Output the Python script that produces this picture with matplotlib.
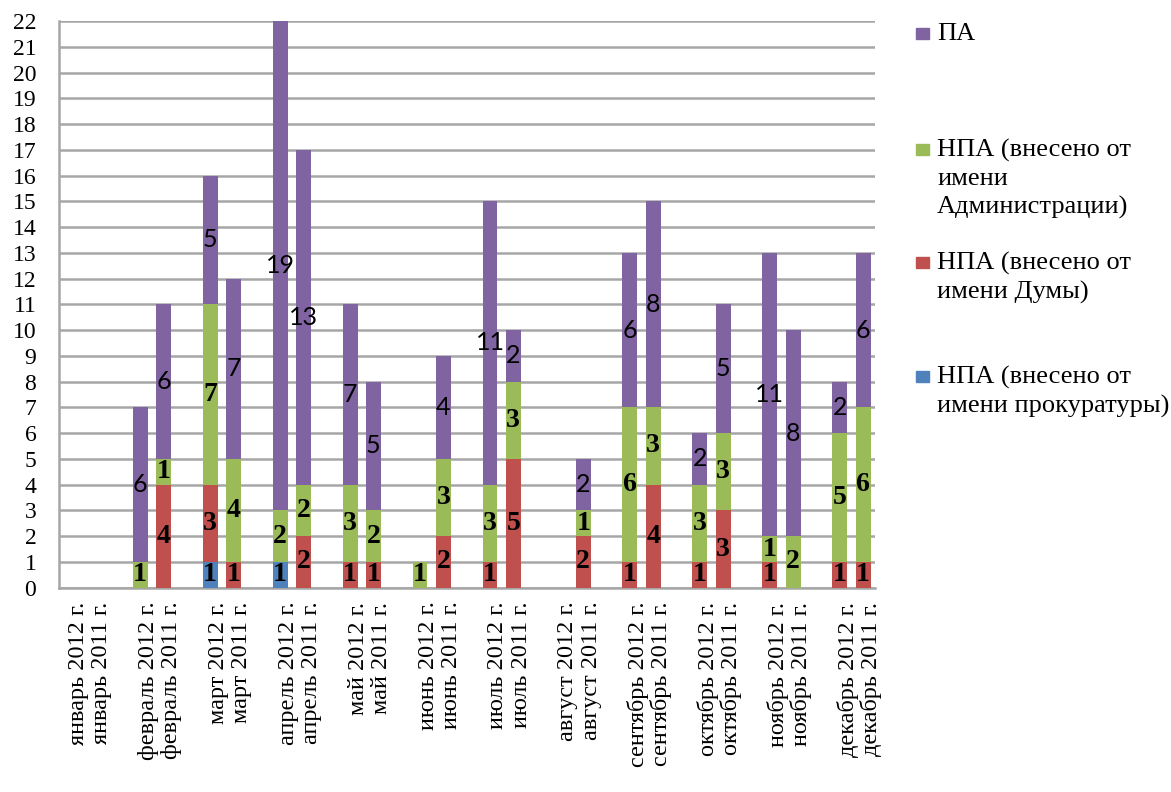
import numpy as np
import matplotlib.pyplot as plt
from matplotlib.patches import Rectangle
from matplotlib.transforms import ScaledTranslation

months = ['январь', 'февраль', 'март', 'апрель', 'май', 'июнь',
          'июль', 'август', 'сентябрь', 'октябрь', 'ноябрь', 'декабрь']

# values per month, 2012 then 2011
prok_2012 = [0, 0, 1, 1, 0, 0, 0, 0, 0, 0, 0, 0]
prok_2011 = [0, 0, 0, 0, 0, 0, 0, 0, 0, 0, 0, 0]
duma_2012 = [0, 0, 3, 0, 1, 0, 1, 0, 1, 1, 1, 1]
duma_2011 = [0, 4, 1, 2, 1, 2, 5, 2, 4, 3, 0, 1]
adm_2012 = [0, 1, 7, 2, 3, 1, 3, 0, 6, 3, 1, 5]
adm_2011 = [0, 1, 4, 2, 2, 3, 3, 1, 3, 3, 2, 6]
pa_2012 = [0, 6, 5, 19, 7, 0, 11, 0, 6, 2, 11, 2]
pa_2011 = [0, 6, 7, 13, 5, 4, 2, 2, 8, 5, 8, 6]

legend_names = ['НПА (внесено от\nимени прокуратуры)',
                'НПА (внесено от\nимени Думы)',
                'НПА (внесено от\nимени\nАдминистрации)',
                'ПА']
colors = ['#4F81BD', '#C0504D', '#9BBB59', '#8064A2']

# interleave 2012 / 2011 bars, with an empty slot between months
def pair(a, b):
    out = []
    for x, y in zip(a, b):
        out += [x, y]
    return np.array(out)

series = [pair(prok_2012, prok_2011), pair(duma_2012, duma_2011),
          pair(adm_2012, adm_2011), pair(pa_2012, pa_2011)]
xpos = np.array([3 * i + k for i in range(12) for k in (0, 1)])
xlabels = [m + ' ' + yr + ' г.' for m in months for yr in ('2012', '2011')]

serif = 'Liberation Serif'
fig = plt.figure(figsize=(11.71, 7.92), dpi=100)
ax = fig.add_axes([0.050, 0.258, 0.697, 0.7155])

bottom = np.zeros(len(xpos))
for i, vals in enumerate(series):
    bars = ax.bar(xpos, vals, 0.64, bottom=bottom, color=colors[i], zorder=3)
    labs = [str(v) if v > 0 else '' for v in vals]
    if i == 3:
        ax.bar_label(bars, labels=labs, label_type='center', fontsize=18,
                     family=['Lato', 'DejaVu Sans'], color='black', zorder=4)
    else:
        ax.bar_label(bars, labels=labs, label_type='center', fontsize=20,
                     family=serif, fontweight='bold', color='black', zorder=4)
    bottom = bottom + vals

ax.set_xlim(-0.5, 34.5)
ax.set_ylim(0, 22)
ax.set_yticks(range(0, 23))
ax.set_yticklabels([str(v) for v in range(0, 23)], family=serif, fontsize=17)
ax.set_xticks(xpos)
ax.set_xticklabels(xlabels, rotation=90, family=serif, fontsize=17.5, va='top', ha='center')
ax.tick_params(axis='y', length=0, pad=16)
ax.tick_params(axis='x', length=0, pad=10)
shift = ScaledTranslation(8 / 100, 0, fig.dpi_scale_trans)
for t in ax.get_xticklabels():
    t.set_transform(t.get_transform() + shift)
ax.yaxis.grid(True, color='#a6a6a6', linewidth=1.8, zorder=0)
for s in ['top', 'right']:
    ax.spines[s].set_visible(False)
for s in ['left', 'bottom']:
    ax.spines[s].set_color('#a6a6a6')
    ax.spines[s].set_linewidth(1.8)

# legend on the right, top to bottom: ПА, Адм, Дума, прокуратура
leg_y = [33, 149, 262, 376]
for j, idx in enumerate([3, 2, 1, 0]):
    y = 1 - leg_y[j] / 792
    fig.add_artist(Rectangle((916 / 1171, y - 6 / 792), 13 / 1171, 11 / 792,
                             transform=fig.transFigure, color=colors[idx]))
    fig.text(937 / 1171, y + 10 / 792, legend_names[idx], family=serif, fontsize=19,
             va='top', ha='left', linespacing=1.35)

fig.savefig('out.png', dpi=100)
